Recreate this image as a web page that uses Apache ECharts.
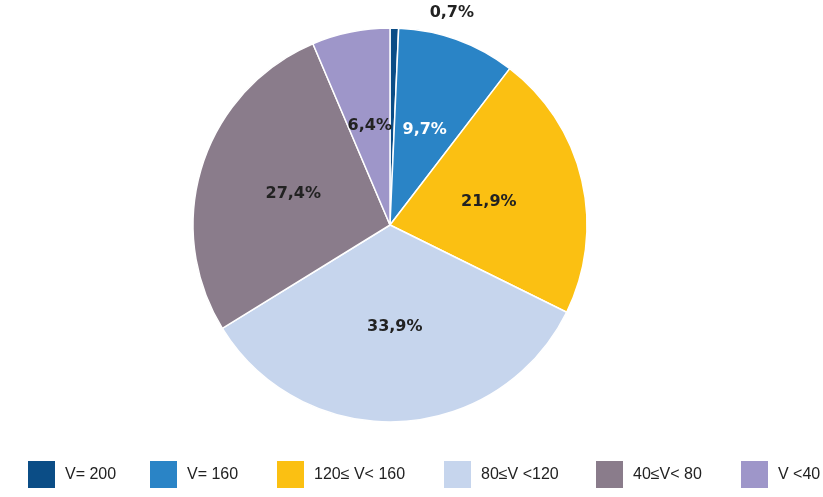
<!DOCTYPE html>
<html lang="en">
<head>
  <meta charset="UTF-8">
  <title>Pie</title>
  <script src="https://cdn.jsdelivr.net/npm/echarts@6/dist/echarts.min.js"></script>
</head>
<body style="margin:0">
  <div id="chart" style="width:823px;height:497px"></div>
  <script>
    const names = ['V= 200', 'V= 160', '120≤ V< 160', '80≤V <120', '40≤V< 80', 'V <40']
    const values = [0.7, 9.7, 21.9, 33.9, 27.4, 6.4]
    const colors = ['#0b4d86', '#2a84c6', '#fbc012', '#c6d5ed', '#8a7c8b', '#9e96c9']
    const labelColors = ['#222', '#fff', '#222', '#222', '#222', '#222']
    const legendLeft = [21, 143, 270, 437, 589, 734]

    const myChart = echarts.init(document.getElementById('chart'))
    const option = {
      animation: false,
      legend: names.map((n, i) => ({
        data: [n],
        left: legendLeft[i],
        top: 454,
        itemWidth: 29,
        itemHeight: 29,
        itemGap: 0,
        icon: 'rect',
        textStyle: { fontFamily: 'Liberation Sans', fontSize: 16, color: '#222', padding: [0, 0, 0, 4] }
      })),
      series: [{
        type: 'pie',
        center: [390, 225],
        radius: 197,
        startAngle: 90,
        clockwise: true,
        itemStyle: { borderColor: '#fff', borderWidth: 1.5 },
        label: {
          position: 'inside',
          fontFamily: 'DejaVu Sans',
          fontWeight: 'bold',
          fontSize: 16,
          formatter: p => String(p.value).replace('.', ',') + '%'
        },
        labelLine: { show: false },
        data: names.map((n, i) => ({
          name: n,
          value: values[i],
          itemStyle: { color: colors[i] },
          label: i === 0
            ? { position: 'outside', color: labelColors[i], distance: 0 }
            : { color: labelColors[i] }
        }))
      }]
    }
    myChart.setOption(option)
  </script>
</body>
</html>
